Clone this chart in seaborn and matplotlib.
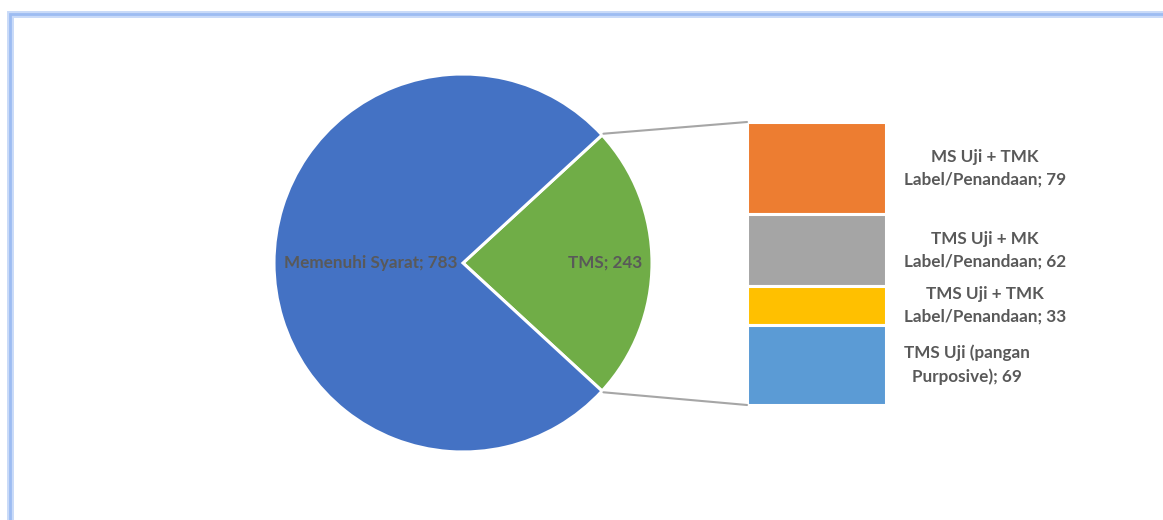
import matplotlib
matplotlib.use("Agg")
import matplotlib.pyplot as plt
from matplotlib.patches import ConnectionPatch, Rectangle
import numpy as np
import seaborn as sns

pie_labels = ["TMS", "Memenuhi Syarat"]
pie_values = [243, 783]
pie_colors = ["#70AD47", "#4472C4"]

# breakdown of TMS, listed from top of the bar to bottom
bar_labels = ["MS Uji + TMK\nLabel/Penandaan", "TMS Uji + MK\nLabel/Penandaan",
              "TMS Uji + TMK\nLabel/Penandaan", "TMS Uji (pangan\nPurposive)"]
bar_values = [79, 62, 33, 69]
bar_colors = ["#ED7D31", "#A5A5A5", "#FFC000", "#5B9BD5"]

TXT = "#595959"
FS = 12.3
W, H = 1163, 520

sns.set_theme(style="white")
plt.rcParams["font.family"] = ["Lato", "DejaVu Sans"]

fig = plt.figure(figsize=(W / 100, H / 100), dpi=100)

def px_axes(x0, y0, x1, y1):
    return fig.add_axes([x0 / W, 1 - y1 / H, (x1 - x0) / W, (y1 - y0) / H])

# frame
fig.patches.append(Rectangle((10 / W, -0.1), 1.2, 1 - 14 / H + 0.1, transform=fig.transFigure,
                             fill=False, edgecolor="#C9DAF8", lw=5, zorder=0))
fig.patches.append(Rectangle((10 / W, -0.1), 1.2, 1 - 14 / H + 0.1, transform=fig.transFigure,
                             fill=False, edgecolor="#9DBCF2", lw=2, zorder=0))

# pie
ax = px_axes(274, 74, 652, 452)
total = sum(pie_values)
start = -pie_values[0] / total * 180
wedges, _ = ax.pie(pie_values, colors=pie_colors, startangle=start, counterclock=True,
                   wedgeprops=dict(edgecolor="white", linewidth=2.2))
ax.set_xlim(-1, 1)
ax.set_ylim(-1, 1)
ax.axis("off")
ax.text(0.75, 0, f"{pie_labels[0]}; {pie_values[0]}", ha="center", va="center",
        color=TXT, fontsize=FS, fontweight="bold")
ax.text(-0.49, 0, f"{pie_labels[1]}; {pie_values[1]}", ha="center", va="center",
        color=TXT, fontsize=FS, fontweight="bold")

# stacked bar
bx = px_axes(747, 122, 886, 405)
tms = sum(bar_values)
bottom = tms
for lab, val, col in zip(bar_labels, bar_values, bar_colors):
    bottom -= val
    bx.bar(0, val, bottom=bottom, width=1, color=col, edgecolor="white", linewidth=2.2)
    bx.annotate(f"{lab}; {val}", xy=(0.5, bottom + val / 2), xycoords="data",
                xytext=(13, 0), textcoords="offset points", ha="left", va="center",
                multialignment="center", color=TXT, fontsize=FS, fontweight="bold",
                linespacing=1.5, annotation_clip=False)
bx.set_xlim(-0.5, 0.5)
bx.set_ylim(0, tms)
bx.axis("off")

# connector lines
th1, th2 = np.deg2rad(wedges[0].theta1), np.deg2rad(wedges[0].theta2)
for th, yb in [(th2, tms), (th1, 0)]:
    con = ConnectionPatch(xyA=(np.cos(th) * 1.01, np.sin(th) * 1.01), coordsA=ax.transData,
                          xyB=(-0.5, yb), coordsB=bx.transData,
                          color="#A6A6A6", lw=1.5)
    fig.add_artist(con)

fig.savefig("out.png", dpi=100, facecolor="white")
